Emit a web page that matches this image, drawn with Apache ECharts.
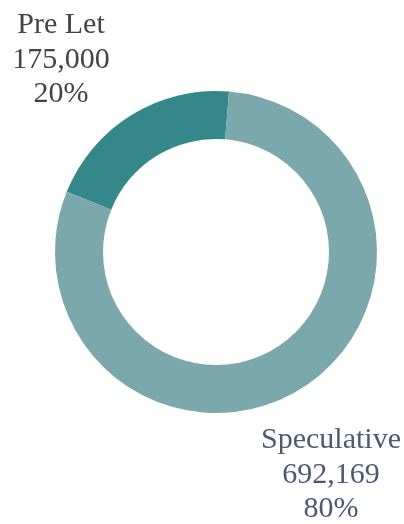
<!DOCTYPE html>
<html>
<head>
<meta charset="utf-8">
<script src="https://cdn.jsdelivr.net/npm/echarts@6/dist/echarts.min.js"></script>
<style>
  html, body { margin: 0; padding: 0; background: #fff; }
  #chart { width: 404px; height: 524px; }
</style>
</head>
<body>
<div id="chart"></div>
<script>
// Chart data
const categories = ['Pre Let', 'Speculative'];
const values = [175000, 692169];
const shares = ['20%', '80%'];

const sliceColors = ['#348889', '#7ba8ad'];
const labelColors = ['#444444', '#4b5a72'];
// label anchor points (centre of each text block)
const labelAnchors = [[61, 60], [331, 475]];

const chart = echarts.init(document.getElementById('chart'), null, { renderer: 'canvas' });

chart.setOption({
    animation: false,
    backgroundColor: '#fff',
    series: [{
        type: 'pie',
        center: [216, 252],
        radius: [113, 161],
        startAngle: 158,
        clockwise: true,
        silent: true,
        avoidLabelOverlap: false,
        itemStyle: { borderWidth: 0 },
        data: categories.map((name, i) => ({
            name,
            value: values[i],
            itemStyle: { color: sliceColors[i] },
            label: { color: labelColors[i] },
        })),
        label: {
            show: true,
            position: 'outside',
            overflow: 'none',
            fontFamily: 'Liberation Serif',
            fontSize: 30,
            lineHeight: 34.5,
            align: 'center',
            formatter: (p) => p.name + '\n' + p.value.toLocaleString('en-US') + '\n' + shares[p.dataIndex],
        },
        labelLine: { show: false },
        labelLayout: (p) => ({
            x: labelAnchors[p.dataIndex][0],
            y: labelAnchors[p.dataIndex][1],
            align: 'center',
            verticalAlign: 'middle',
        }),
    }],
});
</script>
</body>
</html>
